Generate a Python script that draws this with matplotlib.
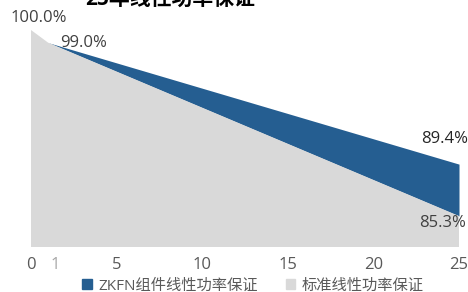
import matplotlib
matplotlib.use("Agg")
import matplotlib.pyplot as plt
from matplotlib.patches import Patch
from matplotlib.transforms import offset_copy

plt.rcParams['font.family'] = ['Open Sans', 'Noto Sans CJK SC', 'DejaVu Sans']

# ── Datos ─────────────────────────────────────────────
anios      = [0, 1, 25]
zkfn       = [100.0, 99.0, 89.4]
estandar   = [100.0, 99.0, 85.3]
ticks_x    = [0, 5, 10, 15, 20, 25]
titulo     = "25年线性功率保证"
nombres    = ["ZKFN组件线性功率保证", "标准线性功率保证"]

AZUL = "#255E91"
GRIS = "#D9D9D9"

fig = plt.figure(figsize=(4.68, 2.92), dpi=100)
ax = fig.add_axes([31/468, 45/292, 428/468, 217/292])

ax.fill_between(anios, estandar, zkfn, color=AZUL, lw=0)
ax.fill_between(anios, 0, estandar, color=GRIS, lw=0)

ax.set_xlim(anios[0], anios[-1])
ax.set_ylim(82.85, 100)
ax.set_xticks(ticks_x)
ax.set_yticks([])
ax.tick_params(axis="x", length=0, pad=7, labelsize=12, labelcolor="#595959")
for s in ax.spines.values():
    s.set_visible(False)

# etiqueta "1" en gris claro
ax.text(1.43, -0.085, "1", transform=ax.get_xaxis_transform(),
        ha="center", va="center", fontsize=12, color="#A6A6A6")

# etiquetas de datos
def etiqueta(x, y, txt, dx, dy, color="#404040"):
    tr = offset_copy(ax.transData, fig=fig, x=dx, y=dy, units="dots")
    ax.text(x, y, txt, transform=tr, ha="center", va="center",
            fontsize=12, color=color)

etiqueta(anios[0], estandar[0], f"{estandar[0]:.1f}%", 8, 12)
etiqueta(anios[1], zkfn[1], f"{zkfn[1]:.1f}%", 35, 0)
etiqueta(anios[-1], zkfn[-1], f"{zkfn[-1]:.1f}%", -14, 25, color="#262626")
etiqueta(anios[-1], estandar[-1], f"{estandar[-1]:.1f}%", -16, -7)

# título (cortado arriba, como en el original)
fig.text(170/468, 1 - 6/292, titulo, ha="center", va="baseline",
         fontsize=15, fontweight="bold", color="black")

handles = [Patch(color=AZUL), Patch(color=GRIS)]
fig.legend(handles, nombres, loc="center", bbox_to_anchor=(253/468, 6/292),
           ncol=2, frameon=False, fontsize=11, labelcolor="#595959",
           handlelength=0.65, handleheight=0.65, handletextpad=0.4,
           columnspacing=1.8, borderpad=0)

fig.savefig("out.png", dpi=100)
